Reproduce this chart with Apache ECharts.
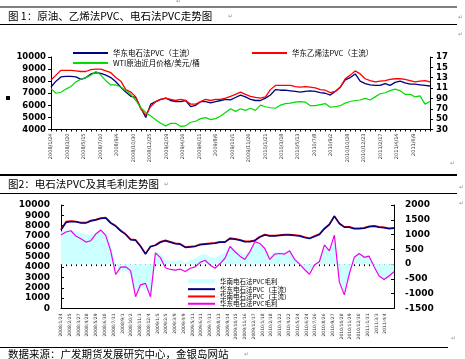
<!DOCTYPE html>
<html><head><meta charset="utf-8">
<script src="https://cdn.jsdelivr.net/npm/echarts@6/dist/echarts.min.js"></script>
<style>html,body{margin:0;padding:0;background:#fff}#c{width:465px;height:359px}</style>
</head><body><div id="c"></div>
<script>
// ---------- Chart 1 data ----------
const ticks1 = ['2008/1/24','2008/3/20','2008/5/15','2008/7/10','2008/9/4','2008/10/30','2008/12/25','2009/2/19','2009/4/16','2009/6/11','2009/8/6','2009/10/1','2009/11/26','2010/1/21','2010/3/18','2010/5/13','2010/7/8','2010/9/2','2010/10/28','2010/12/23','2011/2/17','2011/4/14','2011/6/9',''];
const rightLabels1 = ['30','50','70','90','11','13','15','17'];
const blue1 = [7520,8000,8350,8400,8400,8350,8150,8300,8600,8700,
 8650,8500,8300,7950,7500,7100,6750,6650,5800,5000,
 6100,6300,6500,6600,6400,6300,6300,6400,5900,6000,
 6300,6300,6200,6300,6400,6500,6450,6650,6850,6700,
 6500,6400,6400,6600,6850,7300,7250,7250,7200,7150,
 7100,7150,7200,7150,7050,7000,6850,7150,7500,8100,
 8300,8600,8000,7800,7700,7650,7650,7800,7650,7900,
 8000,7850,7750,7750,7700,7650,7600];
const red1 = [8100,8500,8900,8900,8900,8850,8800,8800,8950,9000,
 9000,8850,8700,8300,8000,7300,7100,6700,5700,5200,
 5900,6300,6500,6600,6500,6400,6500,6400,6100,6100,
 6300,6500,6400,6500,6500,6600,6750,6900,7100,6900,
 6750,6650,6600,6700,7300,7650,7650,7650,7650,7550,
 7500,7550,7500,7450,7300,7250,7050,7150,7500,8200,
 8500,8850,8600,8200,8050,7950,8000,8050,8150,8200,
 8200,8150,8050,7950,8000,8050,7950];
const wti1 = [109,100,102,108,113,122,127,130,135,142,
 135,124,116,116,112,105,98,86,72,63,
 56,49,42,37,42,42,36,37,44,46,
 51,53,49,51,56,63,70,65,70,67,
 71,67,77,74,72,71,77,80,81,83,
 84,83,76,76,78,80,73,74,76,81,
 84,86,87,90,87,93,99,101,105,108,
 105,98,98,93,95,79,84];

// ---------- Chart 2 data ----------
const ticks2 = ['2008/1/24','2008/2/25','2008/3/27','2008/4/28','2008/5/29','2008/6/30','2008/7/31','2008/9/1','2008/10/2','2008/11/3',
 '2008/12/4','2009/1/5','2009/2/5','2009/3/9','2009/4/9','2009/5/11','2009/6/11','2009/7/13','2009/8/13','2009/9/14',
 '2009/10/15','2009/11/16','2009/12/17','2010/1/18','2010/2/18','2010/3/22','2010/4/22','2010/5/24','2010/6/24','2010/7/26',
 '2010/8/26','2010/9/27','2010/10/28','2010/11/29','2010/12/30','2011/1/31','2011/3/3','2011/4/4',''];
const blue2 = [7580,8300,8400,8380,8250,8250,8450,8550,8700,8750,
 8250,7950,7500,7150,6650,6600,6000,5250,6000,6100,
 6400,6550,6400,6250,6200,5900,5950,6000,6150,6200,
 6250,6300,6400,6400,6750,6700,6600,6450,6450,6550,
 6900,7100,7000,7000,7050,7100,7100,7050,7000,6850,
 6750,6950,7150,7700,8100,8900,8200,7850,7850,7700,
 7700,7750,7900,7950,7850,7800,7700,7750];
const red2 = [7650,8400,8450,8400,8300,8300,8500,8600,8750,8800,
 8300,8000,7550,7200,6700,6650,6050,5300,5950,6150,
 6450,6600,6450,6300,6250,5950,6000,6050,6200,6250,
 6300,6350,6450,6450,6800,6750,6650,6500,6500,6600,
 6950,7150,7050,7050,7100,7150,7150,7100,7050,6900,
 6800,7000,7200,7750,8150,8950,8250,7900,7900,7750,
 7750,7800,7950,8000,7900,7850,7750,7800];
const marginEast2 = [984,1086,1130,950,860,747,792,1018,1153,973,
 450,-350,-100,-90,-220,-1100,-700,-650,-1100,380,
 220,-120,-180,-200,-170,-250,-140,-90,60,130,
 -30,-140,20,200,600,420,270,160,420,760,
 700,530,160,340,360,340,450,160,0,-180,
 -340,-30,90,650,450,980,-600,-1040,-340,230,
 360,230,270,-90,-400,-520,-400,-260];
const marginSouth2 = [1100,1150,1150,1100,1050,1000,1000,1050,1150,1100,
 650,0,-250,-250,-350,-900,-800,-850,-1000,450,
 350,150,100,100,150,50,150,200,300,350,
 250,200,300,400,650,500,400,300,500,750,
 700,600,250,400,400,400,450,200,50,-150,
 -300,-50,150,550,500,800,-500,-950,-400,200,
 350,300,300,-100,-450,-500,-450,-300];

const S1A = '华东电石法PVC（主流）';
const S1B = '华东乙烯法PVC（主流）';
const S1C = 'WTI原油近月价格/美元/桶';
const S2A = '华南电石法PVC毛利';
const S2B = '华东电石法PVC（主流）';
const S2C = '华南电石法PVC（主流）';
const S2D = '华东电石法PVC毛利';

const CJK = '"Noto Sans CJK SC", sans-serif';
const NUM = '"DejaVu Sans", sans-serif';
const idx1 = blue1.map((_, i) => i);
const idx2 = blue2.map((_, i) => i);

const chart = echarts.init(document.getElementById('c'), null, {renderer: 'canvas'});

function valAxis(grid, pos, min, max, interval, fs, margin, inside, fmt) {
  return {
    gridIndex: grid, type: 'value', position: pos, min: min, max: max, interval: interval,
    axisLine: {show: true, lineStyle: {color: '#000', width: 1}},
    axisTick: {show: true, inside: inside, length: 3, lineStyle: {color: '#000'}},
    splitLine: {show: false},
    axisLabel: {fontSize: fs, fontWeight: 'bold', fontFamily: NUM, color: '#000', margin: margin,
      formatter: fmt || (v => String(v))}
  };
}
function lineSeries(name, xi, yi, data, color, w) {
  return {name: name, type: 'line', xAxisIndex: xi, yAxisIndex: yi, data: data, showSymbol: false, symbol: 'none',
    lineStyle: {color: color, width: w || 1.2}, itemStyle: {color: color}, emphasis: {disabled: true}};
}
const legText = (fs, lh) => ({fontSize: fs, fontFamily: CJK, color: '#000', lineHeight: lh});

const option = {
  animation: false,
  backgroundColor: '#fff',
  grid: [
    {left: 51, top: 57, width: 379, height: 72.5},
    {left: 61, top: 205, width: 333, height: 103.5}
  ],
  xAxis: [
    {gridIndex: 0, type: 'category', position: 'bottom', data: ticks1, boundaryGap: false,
     axisLine: {show: true, lineStyle: {color: '#000', width: 1}}, axisTick: {show: false},
     axisLabel: {rotate: 90, interval: 0, fontSize: 5, fontFamily: NUM, color: '#333', margin: 4}},
    {gridIndex: 0, type: 'category', position: 'bottom', data: idx1, boundaryGap: false,
     axisLine: {show: false}, axisTick: {show: true, interval: 0, length: 2, lineStyle: {color: '#000'}},
     axisLabel: {show: false}},
    {gridIndex: 1, type: 'category', position: 'bottom', data: ticks2, boundaryGap: false,
     axisLine: {show: true, lineStyle: {color: '#000', width: 1}}, axisTick: {show: false},
     axisLabel: {rotate: 90, interval: 0, fontSize: 4.5, fontFamily: NUM, color: '#333', margin: 5}},
    {gridIndex: 1, type: 'category', position: 'bottom', data: idx2, boundaryGap: false,
     axisLine: {show: false}, axisTick: {show: true, interval: 0, length: 2, lineStyle: {color: '#000'}},
     axisLabel: {show: false}}
  ],
  yAxis: [
    valAxis(0, 'left', 4000, 10000, 1000, 8.5, 5, false),
    valAxis(0, 'right', 30, 170, 20, 8.5, 6, false, v => rightLabels1[Math.round((v - 30) / 20)]),
    valAxis(1, 'left', 0, 10000, 1000, 9, 11, true),
    valAxis(1, 'right', -1500, 2000, 500, 9, 11, true)
  ],
  legend: [
    {data: [S1A, S1C], orient: 'vertical', left: 73, top: 49, padding: 0, itemWidth: 35, itemHeight: 2, itemGap: 2,
     icon: 'rect', selectedMode: false, itemStyle: {borderWidth: 0}, textStyle: legText(7.5, 8)},
    {data: [S1B], orient: 'vertical', left: 252, top: 49, padding: 0, itemWidth: 35, itemHeight: 2, itemGap: 2,
     icon: 'rect', selectedMode: false, itemStyle: {borderWidth: 0}, textStyle: legText(7.5, 8)},
    {data: [S2A], orient: 'vertical', left: 188, top: 278, padding: 0, itemWidth: 27, itemHeight: 4, itemGap: 0,
     icon: 'rect', selectedMode: false, itemStyle: {borderWidth: 0}, textStyle: legText(6.5, 6)},
    {data: [S2B, S2C, S2D], orient: 'vertical', left: 188, top: 285.5, padding: 0, itemWidth: 27, itemHeight: 2, itemGap: 0,
     icon: 'rect', selectedMode: false, itemStyle: {borderWidth: 0}, textStyle: legText(6.5, 7.3)}
  ],
  series: [
    lineSeries(S1A, 1, 0, blue1, '#000080', 1.3),
    lineSeries(S1B, 1, 0, red1, '#ff0000', 1.3),
    lineSeries(S1C, 1, 1, wti1, '#00dd00', 1.2),
    {name: S2A, type: 'line', xAxisIndex: 3, yAxisIndex: 3, data: marginSouth2, showSymbol: false, symbol: 'none',
     lineStyle: {width: 0, color: '#ccffff'}, itemStyle: {color: '#ccffff'},
     areaStyle: {color: '#ccffff', opacity: 1, origin: 0}, emphasis: {disabled: true}},
    lineSeries(S2C, 3, 2, red2, '#ff0000', 1.5),
    lineSeries(S2B, 3, 2, blue2, '#000080', 1.5),
    lineSeries(S2D, 3, 3, marginEast2, '#ee00ee', 1.2)
  ],
  graphic: [
    {type: 'line', shape: {x1: 0, y1: 7, x2: 457, y2: 7}, style: {stroke: '#000', lineWidth: 1}},
    {type: 'line', shape: {x1: 0, y1: 24.5, x2: 457, y2: 24.5}, style: {stroke: '#000', lineWidth: 1}},
    {type: 'line', shape: {x1: 0, y1: 175, x2: 457, y2: 175}, style: {stroke: '#000', lineWidth: 2}},
    {type: 'line', shape: {x1: 0, y1: 193.5, x2: 457, y2: 193.5}, style: {stroke: '#000', lineWidth: 1}},
    {type: 'line', shape: {x1: 0, y1: 347.5, x2: 448, y2: 347.5}, style: {stroke: '#000', lineWidth: 1}},
    {type: 'rect', shape: {x: 6, y: 96, width: 4, height: 4}, style: {fill: '#000'}},
    {type: 'text', x: 8, y: 11, style: {text: '图 1：原油、乙烯法PVC、电石法PVC走势图', font: '10.5px "Noto Sans CJK SC"', fill: '#000'}},
    {type: 'text', x: 8, y: 178.5, style: {text: '图2：电石法PVC及其毛利走势图', font: '10.5px "Noto Sans CJK SC"', fill: '#000'}},
    {type: 'text', x: 8, y: 348.5, style: {text: '数据来源：广发期货发展研究中心，金银岛网站', font: '10.5px "Noto Sans CJK SC"', fill: '#000'}},
    {type: 'text', x: 228, y: 13, style: {text: '↵', font: '6px "DejaVu Sans"', fill: '#999'}},
    {type: 'text', x: 176, y: -2, style: {text: '↵', font: '6px "DejaVu Sans"', fill: '#999'}},
    {type: 'text', x: 458, y: 14, style: {text: '↵', font: '6px "DejaVu Sans"', fill: '#999'}},
    {type: 'text', x: 458, y: 31, style: {text: '↵', font: '6px "DejaVu Sans"', fill: '#999'}},
    {type: 'text', x: 450, y: 160, style: {text: '↵', font: '6px "DejaVu Sans"', fill: '#999'}},
    {type: 'text', x: 164, y: 181, style: {text: '↵', font: '6px "DejaVu Sans"', fill: '#999'}},
    {type: 'text', x: 459, y: 184, style: {text: '↵', font: '6px "DejaVu Sans"', fill: '#999'}},
    {type: 'text', x: 459, y: 200, style: {text: '↵', font: '6px "DejaVu Sans"', fill: '#999'}},
    {type: 'text', x: 451, y: 335, style: {text: '↵', font: '6px "DejaVu Sans"', fill: '#999'}},
    {type: 'text', x: 244, y: 351, style: {text: '↵', font: '6px "DejaVu Sans"', fill: '#999'}}
  ]
};
chart.setOption(option);
</script>
</body></html>
